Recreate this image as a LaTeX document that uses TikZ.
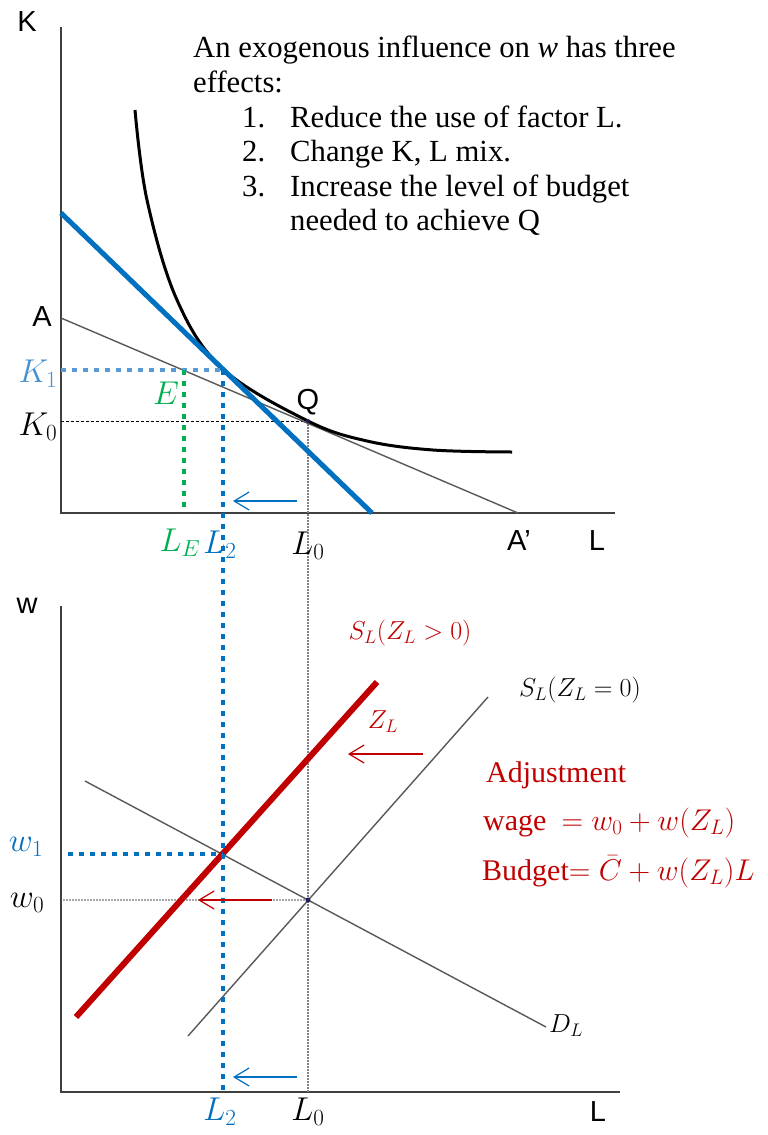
\RequirePackage{fix-cm}
\documentclass[tikz,border=0pt]{standalone}
\usepackage{fontspec}
\setmainfont{Liberation Serif}
\setsansfont{Liberation Sans}
\usetikzlibrary{arrows.meta}
\definecolor{bblue}{HTML}{0070C0}
\definecolor{lblue}{HTML}{5B9BD5}
\definecolor{ggreen}{HTML}{00B050}
\definecolor{dred}{HTML}{C00000}
\definecolor{axgray}{HTML}{404040}
\definecolor{lngray}{HTML}{595959}
\definecolor{dotnavy}{HTML}{1F1F5F}

\begin{document}
\begin{tikzpicture}[x=1pt, y=-1pt,
  ax/.style={axgray, line width=2pt},
  grayline/.style={lngray, line width=1.4pt},
  iso/.style={black, line width=3pt},
  budget/.style={bblue, line width=5pt},
  supply/.style={dred, line width=6pt},
  sq/.style={line width=4.6pt, dash pattern=on 4.6pt off 6.4pt},
  guide/.style={gray, line width=1.3pt, dash pattern=on 1.5pt off 1.5pt},
  lbl/.style={font=\fontsize{29}{34}\selectfont\sffamily, inner sep=0pt},
  mlbl/.style={font=\fontsize{33}{38}\selectfont, inner sep=0pt},
  slbl/.style={font=\fontsize{26}{30}\selectfont, inner sep=0pt},
  txt/.style={font=\fontsize{30.7}{34.6}\selectfont, inner sep=0pt},
  rtxt/.style={font=\fontsize{30}{34.6}\selectfont, inner sep=0pt, dred},
  arr/.style={-{Straight Barb[length=15pt,width=18pt]}, line width=1.2pt}
]
\path[use as bounding box, fill=white] (0,0) rectangle (768,1135);

% top panel: isoquant and budget lines
\coordinate (O1) at (61,513);
\coordinate (Ktop) at (61,27);
\coordinate (Lend1) at (615,513);
\coordinate (A) at (61,318);
\coordinate (Ap) at (518,513);
\coordinate (B1) at (61,213);
\coordinate (B2) at (372,513);
\coordinate (Q) at (308,421);
\coordinate (T) at (223,370);
\coordinate (E) at (184,370);
\coordinate (K1) at (61,370);
\coordinate (K0) at (61,421);
\coordinate (LE) at (184,513);

% bottom panel: labour market
\coordinate (O2) at (61,1092);
\coordinate (Wtop) at (61,606);
\coordinate (Lend2) at (620,1092);
\coordinate (D1) at (85,781);
\coordinate (D2) at (546,1027);
\coordinate (S1) at (188,1036);
\coordinate (S2) at (488,697);
\coordinate (R1) at (76,1017);
\coordinate (R2) at (377,682);
\coordinate (X0) at (308,900);
\coordinate (X1) at (223,854);
\coordinate (W1) at (68,854);
\coordinate (W0) at (63,900);
\coordinate (L2b) at (223,1092);
\coordinate (L0b) at (308,1092);

% arrow ends
\coordinate (ta1) at (297,501);
\coordinate (ta2) at (233,501);
\coordinate (ba1) at (297,1077);
\coordinate (ba2) at (233,1077);
\coordinate (ra1) at (423,754);
\coordinate (ra2) at (348,754);
\coordinate (rb1) at (272,900);
\coordinate (rb2) at (198,900);

% axes
\draw[ax] (Ktop) -- (O1) -- (Lend1);
\draw[ax] (Wtop) -- (O2) -- (Lend2);

% guides
\draw[black, line width=1pt, dash pattern=on 3pt off 2pt] (K0) -- (Q);
\draw[guide] (Q) -- (L0b);
\draw[gray!70, line width=1.2pt, dash pattern=on 1.5pt off 1.5pt] (W0) -- (X0);

% lines
\draw[grayline] (A) -- (Ap);
\draw[iso] plot[smooth, tension=0.6] coordinates {(135,110) (147,200) (177,300) (223,369) (308,421) (367,441) (433,450) (512,452)};
\draw[budget] (B1) -- (B2);
\draw[grayline] (D1) -- (D2);
\draw[grayline] (S1) -- (S2);
\draw[supply] (R1) -- (R2);

% dotted projections
\draw[sq, lblue] (K1) -- (T);
\draw[sq, ggreen] (E) -- (LE);
\draw[sq, bblue] (T) -- (L2b);
\draw[sq, bblue] (W1) -- (X1);

% points
\fill[dotnavy] (Q) circle (2pt);
\fill[dotnavy] (X0) circle (2.5pt);

% arrows
\draw[arr, bblue] (ta1) -- (ta2);
\draw[arr, bblue] (ba1) -- (ba2);
\draw[arr, dred] (ra1) -- (ra2);
\draw[arr, dred] (rb1) -- (rb2);

% labels
\node[lbl] (Klab) at (27,22) {K};
\node[lbl] (wlab) at (27,606) {w};
\node[lbl] (Alab) at (42,317) {A};
\node[lbl] (Aplab) at (519,541) {A'};
\node[lbl] (Qlab) at (308,402) {Q};
\node[lbl] (Llab1) at (597,541) {L};
\node[lbl] (Llab2) at (598,1112) {L};
\node[mlbl, lblue!80!bblue] (K1lab) at (38,374) {$K_1$};
\node[mlbl] (K0lab) at (38,427) {$K_0$};
\node[mlbl, ggreen] (Elab) at (166,393) {$E$};
\node[mlbl, ggreen] (LElab) at (180,543) {$L_E$};
\node[mlbl, bblue] (L2lab) at (220,545) {$L_2$};
\node[mlbl] (L0lab) at (308,546) {$L_0$};
\node[mlbl, bblue] (w1lab) at (26,847) {$w_1$};
\node[mlbl] (w0lab) at (27,903) {$w_0$};
\node[mlbl, bblue] (L2blab) at (220,1112) {$L_2$};
\node[mlbl] (L0blab) at (308,1112) {$L_0$};
\node[slbl] (DLlab) at (566,1026) {$D_L$};
\node[slbl, dred] (ZLlab) at (383,722) {$Z_L$};
\node[slbl, dred] (SLplab) at (410,633) {$S_L(Z_L>0)$};
\node[slbl] (SL0lab) at (580,690) {$S_L(Z_L=0)$};

% text
\node[txt, anchor=north west, align=left] (effects) at (193,36) {An exogenous influence on \textit{w} has three\\
effects:\\
\hspace*{49pt}\makebox[48pt][l]{1.}Reduce the use of factor L.\\
\hspace*{49pt}\makebox[48pt][l]{2.}Change K, L mix.\\
\hspace*{49pt}\makebox[48pt][l]{3.}Increase the level of budget\\
\hspace*{97pt}needed to achieve Q};
\node[rtxt, anchor=base west] (adj) at (486,782) {Adjustment};
\node[rtxt, anchor=base west] (wage) at (483,830) {wage\ \ $=w_0+w(Z_L)$};
\node[rtxt, anchor=base west] (budg) at (482,880) {Budget$=\bar{C}+w(Z_L)L$};
\end{tikzpicture}
\end{document}
